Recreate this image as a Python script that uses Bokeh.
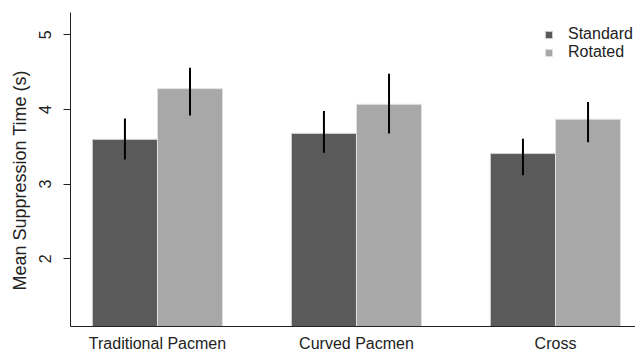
from bokeh.plotting import figure
from bokeh.models import ColumnDataSource, Range1d, FixedTicker, Legend, LegendItem, Title
from bokeh.embed import file_html
from bokeh.resources import INLINE

categories = ["Traditional Pacmen", "Curved Pacmen", "Cross"]
standard = [3.60, 3.68, 3.41]
standard_lo = [3.33, 3.42, 3.12]
standard_hi = [3.88, 3.98, 3.61]
rotated = [4.28, 4.07, 3.87]
rotated_lo = [3.92, 3.68, 3.56]
rotated_hi = [4.56, 4.48, 4.10]
y_ticks = [2, 3, 4, 5]

FONT = "Liberation Sans"
pos = [i + 1 for i in range(len(categories))]
bw = 0.327
off = bw / 2

p = figure(width=635, height=354, output_backend="svg", toolbar_location=None,
           x_range=Range1d(0.563, 3.402), y_range=Range1d(1.093, 5.30),
           min_border_left=70, min_border_right=0, min_border_top=12, min_border_bottom=28)
p.outline_line_color = None
p.xgrid.visible = False
p.ygrid.visible = False
p.background_fill_color = "white"
p.border_fill_color = "white"

src_s = ColumnDataSource(dict(x=[v - off for v in pos], top=standard, lo=standard_lo, hi=standard_hi))
src_r = ColumnDataSource(dict(x=[v + off for v in pos], top=rotated, lo=rotated_lo, hi=rotated_hi))

r_s = p.vbar(x="x", top="top", bottom=0, width=bw, source=src_s,
             fill_color="#5a5a5a", line_color="#d0d0d0", line_width=1)
r_r = p.vbar(x="x", top="top", bottom=0, width=bw, source=src_r,
             fill_color="#a8a8a8", line_color="#e0e0e0", line_width=1)
p.segment(x0="x", y0="lo", x1="x", y1="hi", source=src_s, line_color="black", line_width=2)
p.segment(x0="x", y0="lo", x1="x", y1="hi", source=src_r, line_color="black", line_width=2)

# y axis
ya = p.yaxis[0]
ya.ticker = FixedTicker(ticks=y_ticks)
ya.major_label_text_font = FONT
ya.major_label_text_font_size = "16px"
ya.major_label_text_color = "#222222"
ya.major_label_orientation = "vertical"
ya.major_label_standoff = 12
ya.major_tick_in = 0
ya.major_tick_out = 7
ya.minor_tick_line_color = None
ya.axis_line_color = "#222222"
ya.major_tick_line_color = "#222222"

ylabel = Title(text="Mean Suppression Time (s)", align="left", offset=36,
               text_font=FONT, text_font_size="18px", text_font_style="normal",
               text_color="#222222", standoff=14)
p.add_layout(ylabel, "left")

# x axis
xa = p.xaxis[0]
xa.ticker = FixedTicker(ticks=pos)
xa.major_label_overrides = {v: c for v, c in zip(pos, categories)}
xa.major_label_text_font = FONT
xa.major_label_text_font_size = "16px"
xa.major_label_text_color = "#222222"
xa.major_label_standoff = 8
xa.major_tick_line_color = None
xa.major_tick_in = 0
xa.major_tick_out = 0
xa.minor_tick_line_color = None
xa.axis_line_color = "#222222"

legend = Legend(items=[LegendItem(label="Standard", renderers=[r_s]),
                       LegendItem(label="Rotated", renderers=[r_r])],
                location=(474, 265), orientation="vertical",
                glyph_width=9, glyph_height=9, label_height=18, spacing=0,
                label_standoff=15, padding=0, margin=0,
                label_text_font=FONT, label_text_font_size="16px",
                label_text_color="#222222",
                border_line_color=None, background_fill_alpha=0)
p.add_layout(legend, "center")

open("out.html", "w").write(file_html(p, INLINE))
